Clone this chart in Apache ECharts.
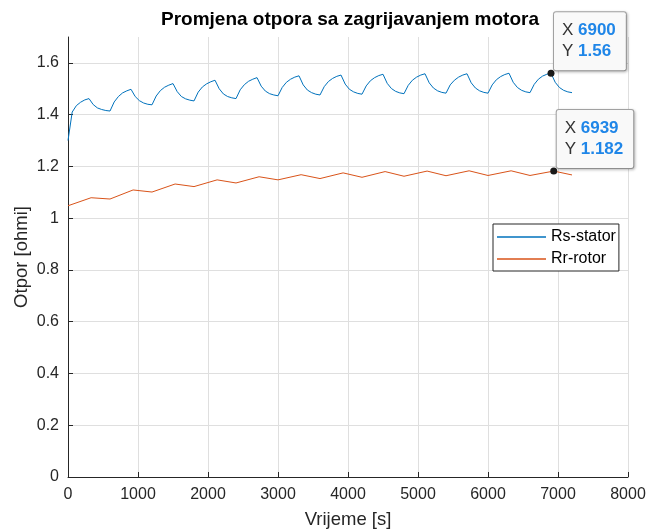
<!DOCTYPE html>
<html>
<head>
<meta charset="utf-8">
<script src="https://cdn.jsdelivr.net/npm/echarts@6/dist/echarts.min.js"></script>
<style>
  html, body { margin: 0; padding: 0; background: #ffffff; }
  #chart { width: 649px; height: 531px; }
</style>
</head>
<body>
<div id="chart"></div>
<script>
const FONT = '"Liberation Sans", Arial, Helvetica, sans-serif';
const AXIS_COLOR = '#262626';

// Stator resistance [ohm], logged every 60 s from t = 0 to 7200 s
const statorStep = 60;
const statorValues = [
  1.300, 1.410, 1.435, 1.448, 1.457, 1.462,
  1.439, 1.426, 1.420, 1.416, 1.414,
  1.449, 1.470, 1.484, 1.492, 1.498,
  1.470, 1.454, 1.445, 1.440, 1.438,
  1.472, 1.493, 1.506, 1.514, 1.520,
  1.489, 1.470, 1.461, 1.456, 1.453,
  1.487, 1.507, 1.519, 1.527, 1.533,
  1.500, 1.480, 1.470, 1.465, 1.462,
  1.496, 1.516, 1.529, 1.537, 1.543,
  1.510, 1.491, 1.481, 1.476, 1.473,
  1.505, 1.525, 1.537, 1.545, 1.550,
  1.515, 1.495, 1.485, 1.479, 1.476,
  1.508, 1.528, 1.540, 1.548, 1.553,
  1.518, 1.498, 1.488, 1.482, 1.479,
  1.511, 1.531, 1.543, 1.551, 1.556,
  1.521, 1.501, 1.490, 1.484, 1.481,
  1.513, 1.533, 1.545, 1.553, 1.558,
  1.523, 1.503, 1.492, 1.486, 1.483,
  1.515, 1.533, 1.545, 1.553, 1.558,
  1.523, 1.503, 1.492, 1.486, 1.483,
  1.515, 1.535, 1.547, 1.555, 1.560,
  1.525, 1.505, 1.494, 1.488, 1.485,
  1.517, 1.537, 1.549, 1.556, 1.560,
  1.525, 1.505, 1.494, 1.488, 1.485
];

// Rotor resistance [ohm] at the turning points of each heating cycle
const rotorTimes = [
  0, 330, 600, 930, 1200, 1530, 1800, 2130, 2400, 2730, 3000, 3330, 3600,
  3930, 4200, 4530, 4800, 5130, 5400, 5730, 6000, 6330, 6600, 6939, 7200
];
const rotorValues = [
  1.048, 1.079, 1.074, 1.109, 1.101, 1.132, 1.122, 1.148, 1.136, 1.160, 1.148, 1.168, 1.153,
  1.175, 1.158, 1.180, 1.162, 1.182, 1.164, 1.183, 1.165, 1.183, 1.165, 1.182, 1.167
];

// Data tips shown on the chart (time of the marked sample)
const statorTipTime = 6900;
const rotorTipTime = 6939;

const seriesNames = ['Rs-stator', 'Rr-rotor'];
const seriesColors = ['#0072BD', '#D95319'];

const statorData = statorValues.map((v, i) => [i * statorStep, v]);
const rotorData = rotorTimes.map((t, i) => [t, rotorValues[i]]);

function findPoint(data, t) {
  return data.find(p => p[0] === t);
}

function fmt(v) {
  return String(parseFloat(v.toPrecision(4)));
}

function dataTip(point) {
  return {
    coord: point,
    symbol: 'circle',
    symbolSize: 7,
    itemStyle: { color: '#1a1a1a', borderWidth: 0 },
    label: {
      show: true,
      position: [6.5, 0.5],
      align: 'left',
      verticalAlign: 'bottom',
      formatter: '{k|X}{v|' + fmt(point[0]) + '}\n{k|Y}{v|' + fmt(point[1]) + '}',
      backgroundColor: '#f9f9f9',
      borderColor: '#a6a6a6',
      borderWidth: 1,
      borderRadius: 2,
      padding: [8, 10, 8, 8],
      shadowColor: 'rgba(0,0,0,0.22)',
      shadowBlur: 3,
      shadowOffsetX: 1,
      shadowOffsetY: 1,
      rich: {
        k: { fontFamily: FONT, fontSize: 17, color: '#333333', lineHeight: 21, width: 16 },
        v: { fontFamily: FONT, fontSize: 17, fontWeight: 'bold', color: '#1f86e8', lineHeight: 21 }
      }
    }
  };
}

const chart = echarts.init(document.getElementById('chart'), null, { renderer: 'canvas' });

chart.setOption({
  animation: false,
  backgroundColor: '#ffffff',
  textStyle: { fontFamily: FONT },
  graphic: [{
    type: 'text',
    x: 350,
    y: 20,
    style: {
      text: 'Promjena otpora sa zagrijavanjem motora',
      fontFamily: FONT,
      fontSize: 19,
      fontWeight: 'bold',
      fill: '#000000',
      textAlign: 'center',
      textVerticalAlign: 'middle'
    }
  }],
  grid: { left: 68, right: 21, top: 37, bottom: 54, containLabel: false, outerBoundsMode: 'none' },
  legend: {
    data: seriesNames,
    orient: 'vertical',
    left: 493,
    top: 224,
    icon: 'rect',
    itemWidth: 49,
    itemHeight: 1.5,
    itemGap: 6,
    padding: [5, 3, 4, 4],
    backgroundColor: '#ffffff',
    borderColor: '#262626',
    borderWidth: 1,
    borderRadius: 0,
    textStyle: { fontFamily: FONT, fontSize: 16, color: '#000000', lineHeight: 16 }
  },
  xAxis: {
    type: 'value',
    min: 0,
    max: 8000,
    interval: 1000,
    name: 'Vrijeme [s]',
    nameLocation: 'middle',
    nameGap: 33,
    nameMoveOverlap: false,
    nameTextStyle: { fontFamily: FONT, fontSize: 18.5, color: AXIS_COLOR },
    axisLine: { show: true, lineStyle: { color: AXIS_COLOR, width: 1 } },
    axisTick: { show: true, inside: true, length: 5, lineStyle: { color: AXIS_COLOR } },
    axisLabel: { fontFamily: FONT, fontSize: 16, color: AXIS_COLOR, margin: 10, formatter: v => String(v) },
    splitLine: { show: true, lineStyle: { color: '#dfdfdf', width: 1 } }
  },
  yAxis: {
    type: 'value',
    min: 0,
    max: 1.7,
    interval: 0.2,
    name: 'Otpor [ohmi]',
    nameLocation: 'middle',
    nameGap: 37,
    nameMoveOverlap: false,
    nameTextStyle: { fontFamily: FONT, fontSize: 18.5, color: AXIS_COLOR },
    axisLine: { show: true, lineStyle: { color: AXIS_COLOR, width: 1 } },
    axisTick: { show: true, inside: true, length: 5, lineStyle: { color: AXIS_COLOR } },
    axisLabel: { fontFamily: FONT, fontSize: 16, color: AXIS_COLOR, margin: 9, showMaxLabel: false },
    splitLine: { show: true, showMaxLine: false, lineStyle: { color: '#dfdfdf', width: 1 } }
  },
  series: [
    {
      name: seriesNames[0],
      type: 'line',
      data: statorData,
      symbol: 'none',
      lineStyle: { color: seriesColors[0], width: 1 },
      itemStyle: { color: seriesColors[0] },
      markPoint: { data: [dataTip(findPoint(statorData, statorTipTime))] },
      z: 3
    },
    {
      name: seriesNames[1],
      type: 'line',
      data: rotorData,
      symbol: 'none',
      lineStyle: { color: seriesColors[1], width: 1 },
      itemStyle: { color: seriesColors[1] },
      markPoint: { data: [dataTip(findPoint(rotorData, rotorTipTime))] },
      z: 3
    }
  ]
});
</script>
</body>
</html>
